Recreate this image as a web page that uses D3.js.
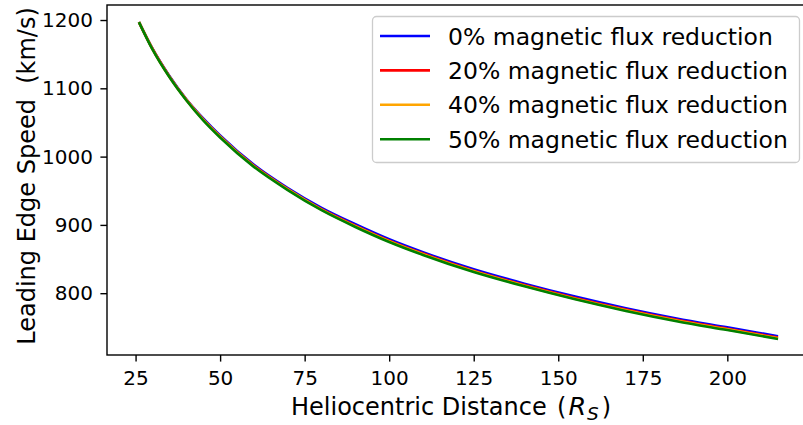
<!DOCTYPE html>
<html>
<head>
<meta charset="utf-8">
<script src="https://cdn.jsdelivr.net/npm/d3@7"></script>
<style>
  html, body { margin: 0; padding: 0; background: #fff; }
  svg { display: block; font-family: "DejaVu Sans", sans-serif; }
  svg text { white-space: pre; }
</style>
</head>
<body>
<div id="chart"></div>
<script>
// data (heliocentric distance in R_S, speed in km/s)
const distance = [26, 30, 35, 40, 45, 50, 60, 70, 80, 90, 100, 110, 125, 140, 155, 170, 185, 200, 215];

const speed0  = [1197, 1158, 1118, 1084, 1056, 1031, 988, 954, 925, 901, 879, 860, 835, 814, 795, 778, 763, 750, 737];
const speed20 = [1197, 1158, 1117.5, 1083.5, 1054.5, 1029.5, 986.5, 952.5, 923, 899, 877, 858, 833, 812, 793, 776, 761, 748, 735];
const speed40 = [1197, 1157.5, 1117, 1083, 1054, 1029, 986, 952, 922.5, 898, 876, 857, 832, 811, 792, 775, 760, 747, 734];
const speed50 = [1197, 1157, 1116.5, 1082.5, 1053, 1028, 985, 951, 921.5, 897, 875, 856, 831, 810, 791, 774, 759, 746, 733];

const seriesLabels = [
  '0% magnetic flux reduction',
  '20% magnetic flux reduction',
  '40% magnetic flux reduction',
  '50% magnetic flux reduction'
];
const seriesColors = ['#0000ff', '#ff0000', '#ffa500', '#008000'];
const seriesValues = [speed0, speed20, speed40, speed50];

const xTicks = [25, 50, 75, 100, 125, 150, 175, 200];
const yTicks = [800, 900, 1000, 1100, 1200];

// layout
const W = 803, H = 425;
const plot = { left: 107, top: 5, right: 810, bottom: 355 };

const svg = d3.select('#chart').append('svg')
  .attr('width', W)
  .attr('height', H);

const x = d3.scaleLinear().domain([16.55, 224.45]).range([plot.left, plot.right]);
const y = d3.scaleLinear().domain([709.5, 1222]).range([plot.bottom, plot.top]);

// axes
const xAxis = svg.append('g')
  .attr('transform', `translate(0,${plot.bottom})`)
  .call(d3.axisBottom(x).tickValues(xTicks).tickSize(6.6).tickPadding(9).tickFormat(d3.format('d')));

const yAxis = svg.append('g')
  .attr('transform', `translate(${plot.left},0)`)
  .call(d3.axisLeft(y).tickValues(yTicks).tickSize(6.6).tickPadding(7.5).tickFormat(d3.format('d')));

[xAxis, yAxis].forEach(ax => {
  ax.select('.domain').remove();
  ax.selectAll('line').attr('stroke', '#000').attr('stroke-width', 1.4);
  ax.selectAll('text')
    .attr('fill', '#000')
    .attr('font-size', 20)
    .attr('font-family', '"DejaVu Sans", sans-serif');
});

// spines
svg.append('rect')
  .attr('x', plot.left)
  .attr('y', plot.top)
  .attr('width', plot.right - plot.left)
  .attr('height', plot.bottom - plot.top)
  .attr('fill', 'none')
  .attr('stroke', '#000')
  .attr('stroke-width', 1.4);

// lines
const line = d3.line()
  .x((d, i) => x(distance[i]))
  .y(d => y(d))
  .curve(d3.curveMonotoneX);

svg.append('g')
  .selectAll('path')
  .data(seriesValues)
  .enter()
  .append('path')
  .attr('d', d => line(d))
  .attr('fill', 'none')
  .attr('stroke', (d, i) => seriesColors[i])
  .attr('stroke-width', 2.6);

// axis labels
svg.append('text')
  .attr('x', 291)
  .attr('y', 415)
  .attr('font-size', 24)
  .attr('fill', '#000')
  .call(t => {
    t.append('tspan').text('Heliocentric Distance');
    t.append('tspan').attr('x', 557).text('(');
    t.append('tspan').attr('font-style', 'italic').attr('font-size', 25.5).attr('dx', 2).text('R');
    t.append('tspan').attr('font-style', 'italic').attr('font-size', 18.5).attr('dx', 1).attr('dy', 5).text('S');
    t.append('tspan').attr('dx', 3).attr('dy', -5).text(')');
  });

svg.append('text')
  .attr('transform', `translate(35,176) rotate(-90)`)
  .attr('text-anchor', 'middle')
  .attr('font-size', 24)
  .attr('fill', '#000')
  .text('Leading Edge Speed  (km/s)');

// legend
const legend = svg.append('g');
legend.append('rect')
  .attr('x', 372.5)
  .attr('y', 16.5)
  .attr('width', 427)
  .attr('height', 146)
  .attr('rx', 4)
  .attr('fill', '#fff')
  .attr('fill-opacity', 0.8)
  .attr('stroke', '#cccccc')
  .attr('stroke-width', 1.3);

const rows = legend.selectAll('g.row')
  .data(seriesLabels)
  .enter()
  .append('g')
  .attr('class', 'row')
  .attr('transform', (d, i) => `translate(0,${36 + i * 34.4})`);

rows.append('line')
  .attr('x1', 380).attr('x2', 430)
  .attr('y1', 0).attr('y2', 0)
  .attr('stroke', (d, i) => seriesColors[i])
  .attr('stroke-width', 2.6);

rows.append('text')
  .attr('x', 448)
  .attr('y', 8.6)
  .attr('font-size', 23.5)
  .attr('fill', '#000')
  .text(d => d);
</script>
</body>
</html>
